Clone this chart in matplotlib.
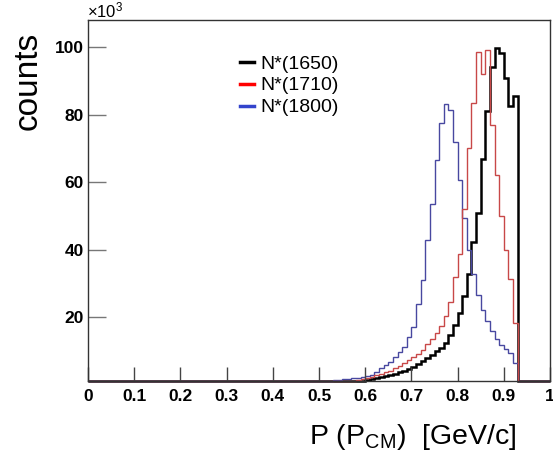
import numpy as np
import matplotlib
matplotlib.use("Agg")
import matplotlib.pyplot as plt
from matplotlib.lines import Line2D

plt.rcParams['font.family'] = ['Liberation Sans', 'DejaVu Sans']
plt.rcParams['mathtext.fontset'] = 'custom'
plt.rcParams['mathtext.rm'] = 'Liberation Sans'
plt.rcParams['mathtext.it'] = 'Liberation Sans'

# histogram contents (x10^3 counts), bins of 0.01 GeV/c starting at 0.50
bin_start = 0.50
bin_width = 0.01
counts_1650 = [0, 0, 0, 0, 0, 0.1, 0.3, 0.6, 0.9, 1.2,
               1.5, 1.8, 2.1, 2.4, 2.7, 3.0, 3.4, 3.8, 4.3, 4.8,
               5.4, 6.2, 7.0, 8.0, 9.0, 10.0, 10.9, 12.4, 14.8, 17.7,
               21.2, 26.3, 33.0, 42.4, 51.0, 67.0, 81.0, 94.0, 99.7, 98.3,
               90.8, 82.6, 85.4]
counts_1710 = [0, 0, 0, 0.1, 0.3, 0.6, 0.9, 1.2, 1.5, 1.8,
               2.1, 2.5, 2.9, 3.3, 3.8, 4.3, 4.9, 5.6, 6.4, 7.3,
               8.2, 9.3, 10.5, 12.0, 13.5, 15.3, 17.5, 20.5, 24.6, 32.0,
               38.9, 52.2, 70.0, 83.3, 98.5, 92.0, 99.0, 77.0, 62.0, 50.0,
               40.0, 31.5, 18.5]
counts_1800 = [0.9, 1.1, 1.3, 1.45, 1.6, 1.75, 1.9, 2.05, 2.2, 2.4,
               2.6, 2.9, 3.9, 5.0, 5.9, 6.9, 8.4, 9.8, 11.3, 14.3,
               17.2, 24.1, 31.0, 42.9, 53.7, 66.5, 77.4, 83.2, 81.5, 71.9,
               60.6, 49.3, 39.9, 33.0, 26.6, 22.2, 19.0, 16.0, 13.6, 11.8,
               10.8, 9.6, 6.5]
labels = ['N*(1650)', 'N*(1710)', 'N*(1800)']
colors = ['black', '#c84848', '#4848a0']
widths = [1.8, 1.0, 1.0]

x_ticks = np.round(np.arange(0, 1.01, 0.1), 1)
x_tick_labels = ['0', '0.1', '0.2', '0.3', '0.4', '0.5', '0.6', '0.7', '0.8', '0.9', '1']
y_ticks = [20, 40, 60, 80, 100]
y_min, y_max = 1.2, 108

fig = plt.figure(figsize=(5.53, 4.68), dpi=100)
ax = fig.add_axes([88 / 553, 1 - 381 / 468, 462 / 553, 361 / 468])

# full 0..1 range with 100 bins, pad empty bins with zeros
edges = np.round(np.linspace(0, 1, 101), 2)
first = int(round(bin_start / bin_width))
for counts, col, lw in zip([counts_1650, counts_1800, counts_1710], [colors[0], colors[2], colors[1]],
                           [widths[0], widths[2], widths[1]]):
    full = np.zeros(100)
    full[first:first + len(counts)] = counts
    ax.stairs(np.maximum(full, y_min), edges, baseline=None, color=col, lw=lw, clip_on=False)

ax.set_xlim(0, 1)
ax.set_ylim(y_min, y_max)
ax.set_xticks(x_ticks, x_tick_labels)
ax.set_yticks(y_ticks)
ax.tick_params(axis='x', direction='in', length=10, width=1, color='#444', pad=6, labelsize=12.5)
ax.tick_params(axis='y', direction='in', length=13, width=1, color='#777', pad=3, labelsize=12.5)
for lab in ax.get_xticklabels() + ax.get_yticklabels():
    lab.set_fontweight('bold')
for sp in ax.spines.values():
    sp.set_color('#333')
    sp.set_linewidth(1)

handles = [Line2D([], [], color=c, lw=2.5) for c in ['black', 'red', '#3344cc']]
ax.legend(handles, labels, loc='upper left', bbox_to_anchor=(240 / 553, 1 - 55 / 468),
          bbox_transform=fig.transFigure, frameon=False, fontsize=14, handlelength=0.7,
          handletextpad=0.35, labelspacing=0.22, borderpad=0, borderaxespad=0)

fig.text(28 / 553, 1 - 81 / 468, 'counts', rotation=90, ha='center', va='center', fontsize=24)
fig.text(517 / 553, 1 - 444 / 468, r'P (P$_{\mathrm{CM}}$)  [GeV/c]', ha='right', va='baseline', fontsize=20.5)
fig.text(87 / 553, 1 - 17 / 468, r'$\times10^{3}$', ha='left', va='baseline', fontsize=12)

fig.savefig('out.png', dpi=100)
